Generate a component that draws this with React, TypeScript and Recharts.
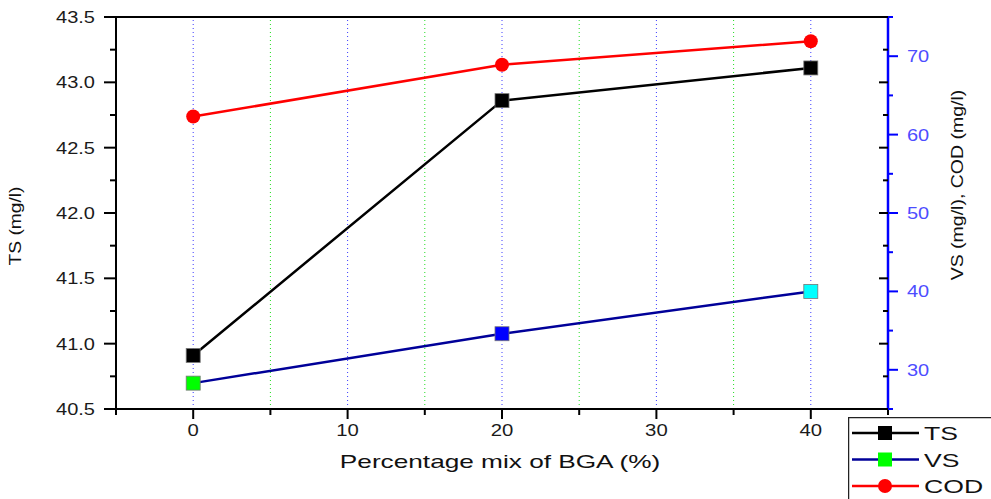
import React from 'react';
import { LineChart, Line, XAxis, YAxis, ReferenceLine, Legend } from 'recharts';

// values
const mixPercent = [0, 20, 40];
const tsValues = [40.91, 42.86, 43.11];
const vsValues = [28.3, 34.6, 40.0];
const codValues = [62.3, 68.9, 71.9];

const xTicks = [-5, 0, 5, 10, 15, 20, 25, 30, 35, 40, 45];
const xLabelTicks = [0, 10, 20, 30, 40];
const xMinorGrid = [5, 15, 25, 35];
const tsTicks = [40.5, 40.75, 41, 41.25, 41.5, 41.75, 42, 42.25, 42.5, 42.75, 43, 43.25, 43.5];
const tsLabelTicks = [40.5, 41, 41.5, 42, 42.5, 43, 43.5];
const rightTicks = [25, 30, 35, 40, 45, 50, 55, 60, 65, 70, 75];
const rightLabelTicks = [30, 40, 50, 60, 70];

const legendItems = ['TS', 'VS', 'COD'];
const vsMarkerColors = ['#00ff00', '#0000ff', '#00ffff'];

const data = mixPercent.map((x, i) => ({ x, ts: tsValues[i], vs: vsValues[i], cod: codValues[i] }));

const FONT = '"Liberation Sans", Arial, sans-serif';
const WIDTH = 991;
const HEIGHT = 499;
const MARGIN = { top: 17, right: 43, bottom: 50, left: 56 };
const AXIS_W = 60;
const PLOT_RIGHT = WIDTH - MARGIN.right - AXIS_W;

const XTick = (props: any) => {
  const { x, y, payload } = props;
  const v = payload.value;
  const major = xLabelTicks.includes(v);
  return (
    <g>
      <line x1={x} x2={x} y1={y} y2={y + (major ? 10 : 6)} stroke="#000" strokeWidth={2} />
      {major && (
        <text
          transform={`translate(${x},${y + 27}) scale(1.27,1)`}
          textAnchor="middle"
          fontFamily={FONT}
          fontSize={16}
          fill="#1a1a1a"
        >
          {v}
        </text>
      )}
    </g>
  );
};

const TsTick = (props: any) => {
  const { x, y, payload } = props;
  const v = payload.value;
  const major = tsLabelTicks.includes(v);
  return (
    <g>
      <line x1={x - (major ? 12 : 6)} x2={x} y1={y} y2={y} stroke="#000" strokeWidth={2} />
      <line x1={PLOT_RIGHT - (major ? 9 : 5)} x2={PLOT_RIGHT} y1={y} y2={y} stroke="#000" strokeWidth={2} />
      {major && (
        <text
          transform={`translate(${x - 21},${y + 6}) scale(1.25,1)`}
          textAnchor="end"
          fontFamily={FONT}
          fontSize={16}
          fill="#1a1a1a"
        >
          {v.toFixed(1)}
        </text>
      )}
    </g>
  );
};

const RightTick = (props: any) => {
  const { x, y, payload } = props;
  const v = payload.value;
  const major = rightLabelTicks.includes(v);
  return (
    <g>
      <line x1={x} x2={x + (major ? 10 : 5)} y1={y} y2={y} stroke="#0000ff" strokeWidth={2} />
      {major && (
        <text
          transform={`translate(${x + 19},${y + 6}) scale(1.25,1)`}
          textAnchor="start"
          fontFamily={FONT}
          fontSize={16}
          fill="#4d4dff"
        >
          {v}
        </text>
      )}
    </g>
  );
};

const SquareDot = (props: any) => {
  const { cx, cy, index } = props;
  const fill = props.colors ? props.colors[index] : props.fill;
  return (
    <rect key={`sq-${index}`} x={cx - 7} y={cy - 7} width={14} height={14} fill={fill} stroke="#777" strokeWidth={0.8} />
  );
};

const CircleDot = (props: any) => {
  const { cx, cy, index } = props;
  return <circle key={`c-${index}`} cx={cx} cy={cy} r={7} fill="#ff0000" />;
};

const LegendBox = () => {
  const rows = [
    { color: '#000000', marker: 'square', fill: '#000000' },
    { color: '#000099', marker: 'square', fill: '#00ff00' },
    { color: '#ff0000', marker: 'circle', fill: '#ff0000' },
  ];
  return (
    <svg width={143} height={82} style={{ display: 'block' }}>
      <line x1={0.5} y1={0} x2={0.5} y2={82} stroke="#222" strokeWidth={1.5} />
      <line x1={0} y1={0.5} x2={143} y2={0.5} stroke="#222" strokeWidth={1.5} />
      {legendItems.map((name, i) => {
        const cy = 16 + i * 26.5;
        const r = rows[i];
        return (
          <g key={name}>
            <line x1={4} x2={71} y1={cy} y2={cy} stroke={r.color} strokeWidth={2.5} />
            {r.marker === 'square' ? (
              <rect x={30} y={cy - 7} width={14} height={14} fill={r.fill} />
            ) : (
              <circle cx={37} cy={cy} r={7} fill={r.fill} />
            )}
            <text
              transform={`translate(76,${cy + 7}) scale(1.4,1)`}
              fontFamily={FONT}
              fontSize={19}
              fill="#111"
            >
              {name}
            </text>
          </g>
        );
      })}
    </svg>
  );
};

const App = () => {
  return (
    <div style={{ position: 'absolute', left: 0, top: 0, width: WIDTH, height: HEIGHT, background: '#fff' }}>
      <LineChart width={WIDTH} height={HEIGHT} data={data} margin={MARGIN}>
        {xLabelTicks.map((v) => (
          <ReferenceLine key={`gb-${v}`} x={v} yAxisId="ts" stroke="#3c3cff" strokeDasharray="1 3" strokeWidth={1} />
        ))}
        {xMinorGrid.map((v) => (
          <ReferenceLine key={`gg-${v}`} x={v} yAxisId="ts" stroke="#22dd22" strokeDasharray="1 3" strokeWidth={1} />
        ))}
        <ReferenceLine y={43.5} yAxisId="ts" stroke="#000" strokeWidth={2} />
        <XAxis
          dataKey="x"
          type="number"
          domain={[-5, 45]}
          ticks={xTicks}
          interval={0}
          height={40}
          tickSize={0}
          tickMargin={0}
          tickLine={false}
          tick={<XTick />}
          axisLine={{ stroke: '#000', strokeWidth: 2 }}
          label={{
            content: () => (
              <text
                transform="translate(500,468) scale(1.38,1)"
                textAnchor="middle"
                fontFamily={FONT}
                fontSize={19}
                fill="#111"
              >
                Percentage mix of BGA (%)
              </text>
            ),
          }}
        />
        <YAxis
          yAxisId="ts"
          orientation="left"
          type="number"
          domain={[40.5, 43.5]}
          ticks={tsTicks}
          interval={0}
          width={AXIS_W}
          tickSize={0}
          tickMargin={0}
          tickLine={false}
          tick={<TsTick />}
          axisLine={{ stroke: '#000', strokeWidth: 2 }}
          label={{
            content: () => (
              <text
                transform="translate(21,226) rotate(-90) scale(1.2,1)"
                textAnchor="middle"
                fontFamily={FONT}
                fontSize={16}
                fill="#111"
              >
                TS (mg/l)
              </text>
            ),
          }}
        />
        <YAxis
          yAxisId="right"
          orientation="right"
          type="number"
          domain={[25, 75]}
          ticks={rightTicks}
          interval={0}
          width={AXIS_W}
          tickSize={0}
          tickMargin={0}
          tickLine={false}
          tick={<RightTick />}
          axisLine={{ stroke: '#0000ff', strokeWidth: 2.5 }}
          label={{
            content: () => (
              <text
                transform="translate(963,185) rotate(-90) scale(1.22,1)"
                textAnchor="middle"
                fontFamily={FONT}
                fontSize={16}
                fill="#111"
              >
                VS (mg/l), COD (mg/l)
              </text>
            ),
          }}
        />
        <Line
          yAxisId="right"
          dataKey="cod"
          name="COD"
          stroke="#ff0000"
          strokeWidth={2.5}
          dot={<CircleDot />}
          activeDot={false}
          isAnimationActive={false}
        />
        <Line
          yAxisId="right"
          dataKey="vs"
          name="VS"
          stroke="#000099"
          strokeWidth={2.5}
          dot={<SquareDot colors={vsMarkerColors} />}
          activeDot={false}
          isAnimationActive={false}
        />
        <Line
          yAxisId="ts"
          dataKey="ts"
          name="TS"
          stroke="#000000"
          strokeWidth={2.5}
          dot={<SquareDot fill="#000000" />}
          activeDot={false}
          isAnimationActive={false}
        />
        <Legend
          layout="vertical"
          align="center"
          verticalAlign="middle"
          wrapperStyle={{ left: 848, top: 417, width: 143, height: 82 }}
          content={() => <LegendBox />}
        />
      </LineChart>
    </div>
  );
};

export default App;
